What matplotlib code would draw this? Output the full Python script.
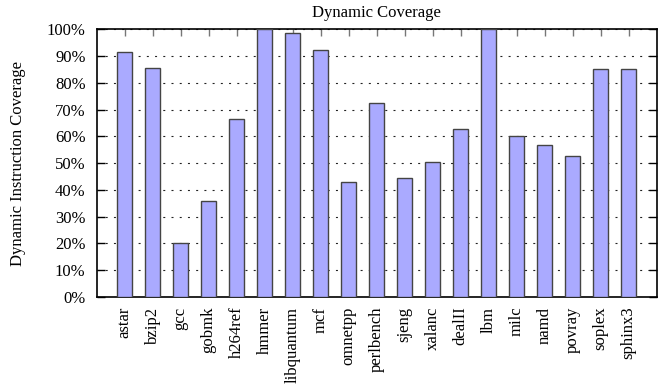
import matplotlib
matplotlib.use("Agg")
import matplotlib.pyplot as plt
import numpy as np
from matplotlib.ticker import FuncFormatter, MultipleLocator

benchmarks = ["astar", "bzip2", "gcc", "gobmk", "h264ref", "hmmer", "libquantum",
              "mcf", "omnetpp", "perlbench", "sjeng", "xalanc", "dealII", "lbm",
              "milc", "namd", "povray", "soplex", "sphinx3"]
coverage = [91.6, 85.7, 20.1, 36.0, 66.4, 100.0, 98.5,
            92.2, 43.1, 72.3, 44.3, 50.6, 62.9, 100.0,
            60.3, 56.8, 52.7, 85.3, 85.3]

plt.rcParams["font.family"] = ["Liberation Serif", "DejaVu Serif"]
plt.rcParams["font.size"] = 12

fig = plt.figure(figsize=(6.61, 3.85), dpi=100)
ax = fig.add_axes([0.1463, 0.2286, 0.9932 - 0.1463, 0.924 - 0.2286])

x = np.arange(len(benchmarks))
ax.bar(x, coverage, width=0.52, color="#aaaaff", edgecolor="#444444",
       linewidth=1.0, zorder=3)

ax.set_xlim(-1, len(benchmarks))
ax.set_ylim(0, 100)
ax.yaxis.set_major_locator(MultipleLocator(10))
ax.yaxis.set_major_formatter(FuncFormatter(lambda v, p: f"{int(round(v))}%"))

ax.set_xticks(x)
ax.set_xticklabels(benchmarks, rotation=90, va="top", ha="center")

# horizontal dotted grid behind bars
ax.grid(axis="y", color="#222222", linestyle=(0, (1.8, 5.6)), linewidth=0.8, zorder=0)
ax.set_axisbelow(True)

ax.tick_params(axis="x", which="both", bottom=False, top=True, direction="in",
               length=5, width=1.0, color="#777777", labelbottom=True, pad=7)
ax.tick_params(axis="y", which="both", left=True, right=True, direction="in",
               length=6, width=1.0, color="black", pad=8)

for s in ax.spines.values():
    s.set_linewidth(1.2)
    s.set_color("black")

ax.set_title("Dynamic Coverage", fontsize=12, pad=9)
fig.text(18 / 661, 1 - 163 / 385, "Dynamic Instruction Coverage", rotation=90,
         ha="center", va="center", fontsize=12)

fig.savefig("out.png", dpi=100)
